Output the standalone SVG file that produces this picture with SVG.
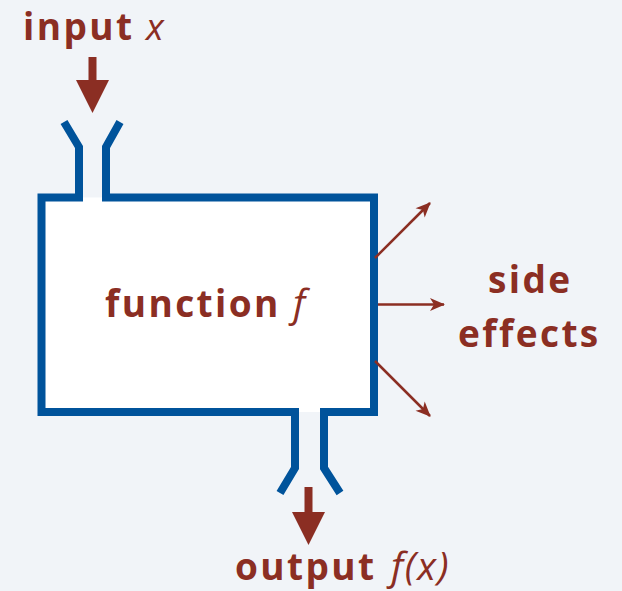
<svg xmlns="http://www.w3.org/2000/svg" width="622" height="591" viewBox="0 0 622 591">
<defs>
<style>
.lbl{font-family:"Open Sans","Liberation Sans",sans-serif;font-weight:bold;fill:#8B2E23;font-size:37px;letter-spacing:2.4px}
.it{font-weight:normal;font-style:italic;font-size:39px;letter-spacing:1.5px}
.sm{font-size:37px}
.wall{fill:none;stroke:#00539B;stroke-width:8;stroke-linejoin:miter}
.side{stroke:#8B2E23;stroke-width:2.5;fill:none}
.big{fill:#8B2E23}
</style>
<marker id="ah" markerUnits="userSpaceOnUse" viewBox="-16 -8 18 16" refX="0" refY="0" markerWidth="18" markerHeight="16" orient="auto">
<path d="M1,0 L-14,-6.5 L-10,0 L-14,6.5 Z" fill="#8B2E23"/>
</marker>
</defs>
<rect width="622" height="591" fill="#F1F4F8"/>
<g id="function">
<rect x="41.5" y="197.5" width="332.5" height="214.5" fill="#FFFFFF"/>
<path class="wall" d="M64,122 L79,147 L79,197.5 L41.5,197.5 L41.5,412 L295,412 L295,468 L280,493"/>
<path class="wall" d="M120,122 L106,147 L106,197.5 L374,197.5 L374,412 L324,412 L324,468 L340,493"/>
<text class="lbl" x="105" y="317">function <tspan class="it" x="293">f</tspan></text>
</g>
<g id="input">
<text class="lbl" x="23" y="40">input <tspan class="it sm" x="146">x</tspan></text>
</g>
<g id="output">
<text class="lbl" x="235" y="580">output <tspan class="it" x="391">f(x)</tspan></text>
</g>
<g id="side-effects">
<text class="lbl" x="488" y="293">side</text>
<text class="lbl" x="458" y="347">effects</text>
</g>
<g id="connectors">
<path class="big" d="M88.5,57 H96.5 V80 H109 L92.5,113 L76,80 H88.5 Z"/>
<path class="big" d="M304.5,487 H312.5 V512 H325 L308.5,545 L292,512 H304.5 Z"/>
<line class="side" x1="375" y1="258" x2="430" y2="203" marker-end="url(#ah)"/>
<line class="side" x1="378" y1="304.5" x2="444" y2="304.5" marker-end="url(#ah)"/>
<line class="side" x1="375" y1="361" x2="430" y2="416" marker-end="url(#ah)"/>
</g>
</svg>
